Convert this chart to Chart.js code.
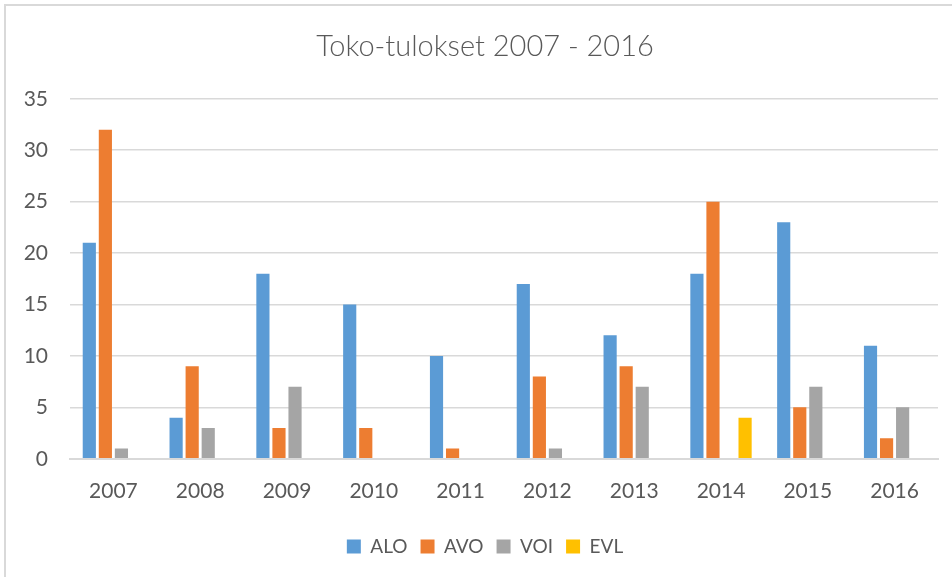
<!DOCTYPE html>
<html>
<head>
<meta charset="utf-8">
<script src="https://cdn.jsdelivr.net/npm/chart.js@4"></script>
<style>
  html, body { margin: 0; padding: 0; background: #fff; }
  #wrap { position: relative; width: 952px; height: 577px; overflow: hidden; }
  #frame { position: absolute; left: 4px; top: 4px; width: 1000px; height: 1000px; border: 2px solid #d9d9d9; box-sizing: border-box; pointer-events: none; }
  canvas { position: absolute; left: 0; top: 0; }
</style>
</head>
<body>
<div id="wrap">
  <!-- the original chart is wider than the crop, so the canvas runs past the right edge -->
  <canvas id="chart" width="970" height="577"></canvas>
  <div id="frame"></div>
</div>
<script>
const years = ['2007', '2008', '2009', '2010', '2011', '2012', '2013', '2014', '2015', '2016'];
const alo = [21, 4, 18, 15, 10, 17, 12, 18, 23, 11];
const avo = [32, 9, 3, 3, 1, 8, 9, 25, 5, 2];
const voi = [1, 3, 7, 0, 0, 1, 7, 0, 7, 5];
const evl = [0, 0, 0, 0, 0, 0, 0, 4, 0, 0];
const yTicks = [0, 5, 10, 15, 20, 25, 30, 35];

const textColor = '#595959';
const gridColor = '#d9d9d9';
const fontFamily = 'Lato, "Open Sans", sans-serif';

function series(label, data, color) {
    return {
        label: label,
        data: data,
        backgroundColor: color,
        borderWidth: 0,
        barPercentage: 0.82,
        categoryPercentage: 0.74,
    };
}

new Chart(document.getElementById('chart'), {
    type: 'bar',
    data: {
        labels: years,
        datasets: [
            series('ALO', alo, '#5b9bd5'),
            series('AVO', avo, '#ed7d31'),
            series('VOI', voi, '#a5a5a5'),
            series('EVL', evl, '#ffc000'),
        ],
    },
    options: {
        responsive: false,
        animation: false,
        layout: { padding: { left: 0, right: 0, top: 0, bottom: 11 } },
        plugins: {
            title: {
                display: true,
                text: 'Toko-tulokset 2007 - 2016',
                color: textColor,
                font: { family: fontFamily, size: 29, weight: 300 },
                padding: { top: 29, bottom: 35 },
            },
            legend: {
                position: 'bottom',
                labels: {
                    color: textColor,
                    font: { family: fontFamily, size: 19 },
                    boxWidth: 14,
                    boxHeight: 14,
                    padding: 13,
                },
            },
            tooltip: { enabled: false },
        },
        scales: {
            x: {
                grid: { display: false, drawTicks: false },
                border: { color: gridColor, width: 2 },
                ticks: {
                    color: textColor,
                    font: { family: fontFamily, size: 21 },
                    padding: 20,
                },
            },
            y: {
                min: 0,
                max: 35,
                afterFit: s => { s.width = 70; },
                afterBuildTicks: s => { s.ticks = yTicks.map(v => ({ value: v })); },
                grid: { color: gridColor, lineWidth: 1.5, drawTicks: false },
                border: { display: false },
                ticks: {
                    color: textColor,
                    font: { family: fontFamily, size: 21 },
                    padding: 22,
                },
            },
            // empty spacer on the right so the plot ends where the reference does
            spacer: {
                type: 'linear',
                position: 'right',
                display: true,
                afterFit: s => { s.width = 32; },
                grid: { display: false, drawTicks: false },
                border: { display: false },
                ticks: { display: false },
            },
        },
    },
});
</script>
</body>
</html>
